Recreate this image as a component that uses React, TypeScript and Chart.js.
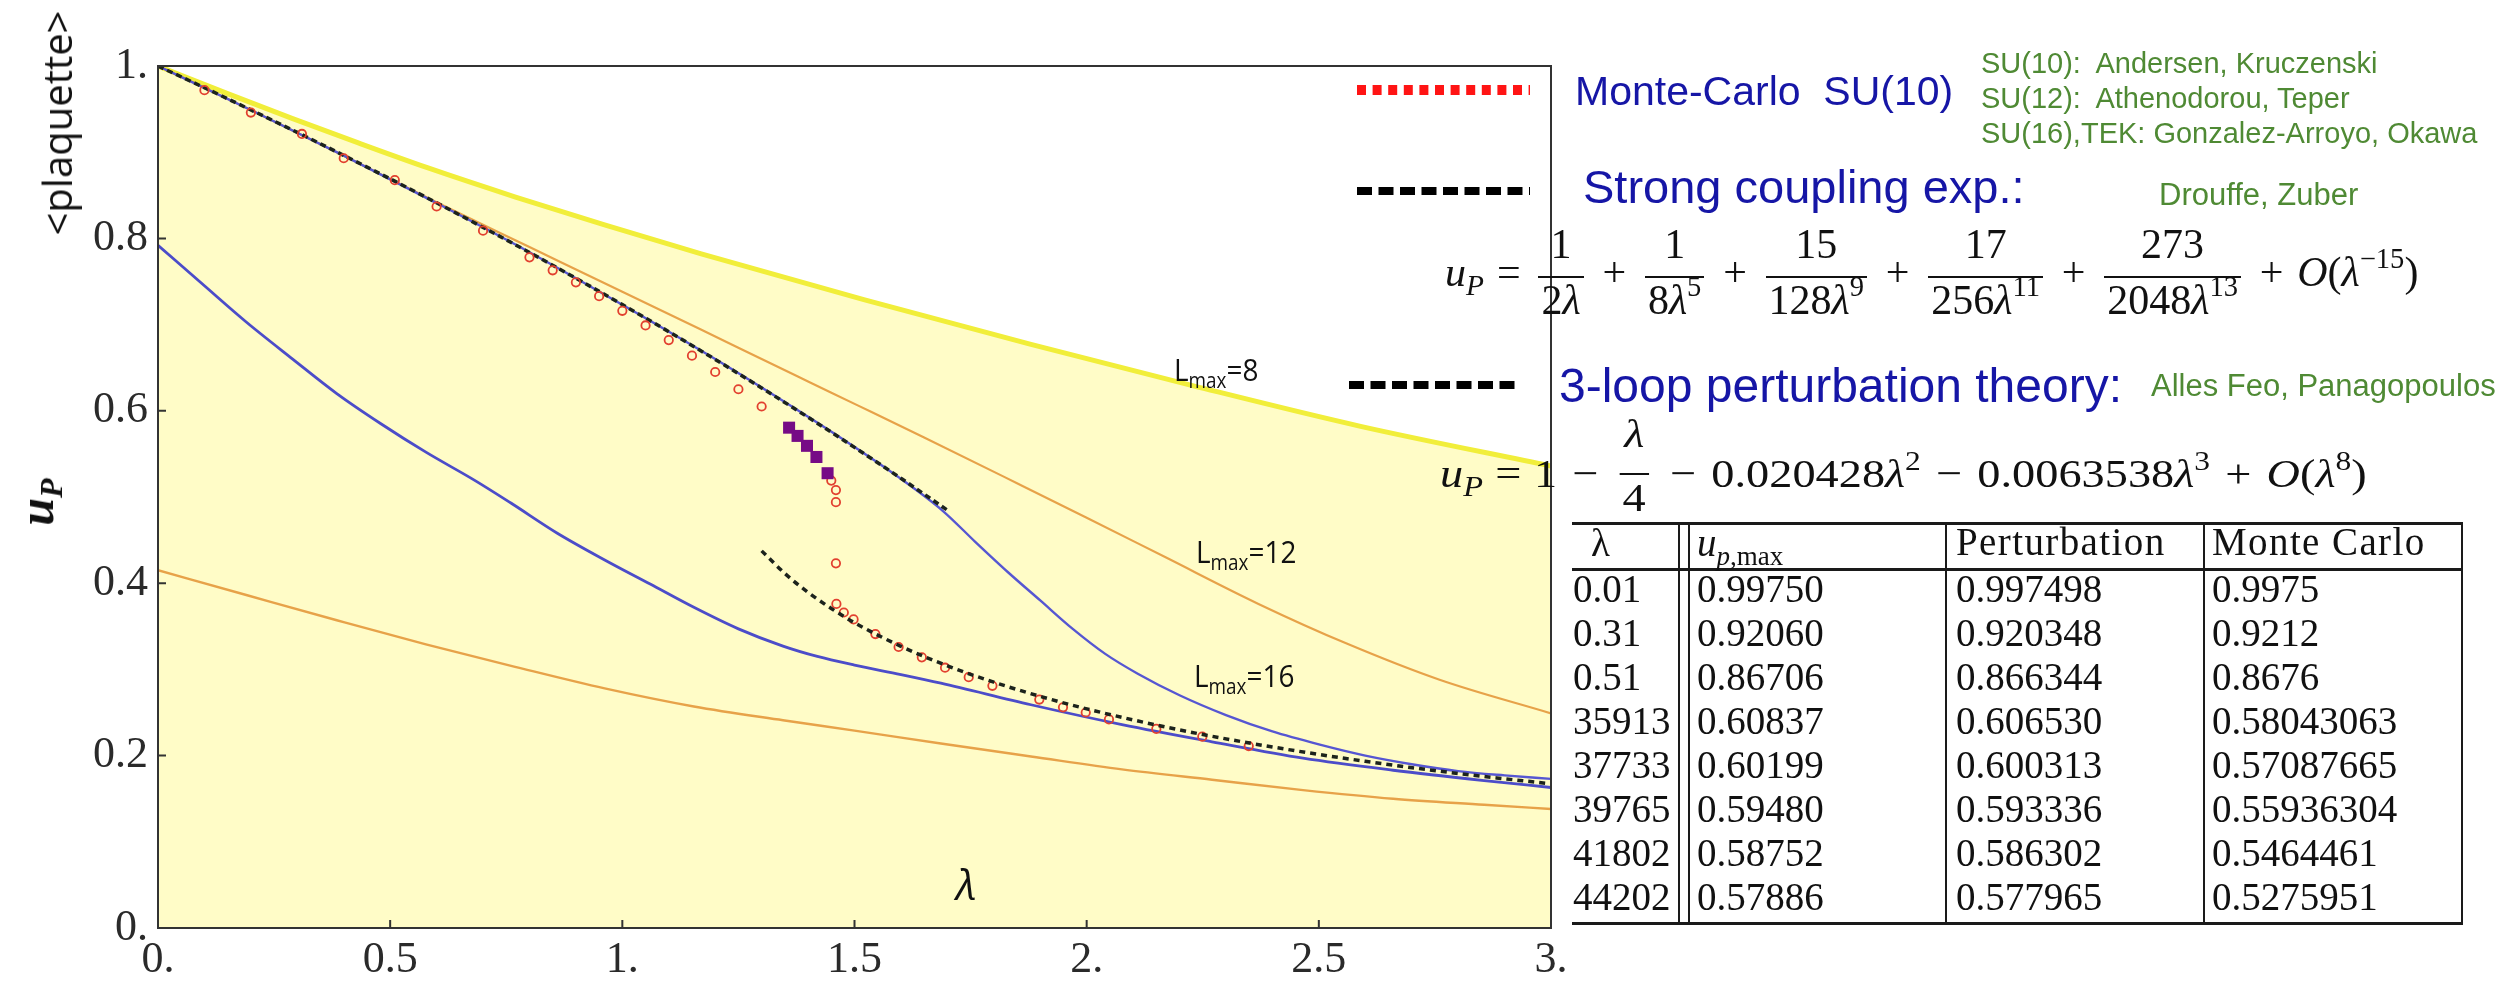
import React, { useEffect, useRef } from 'react';
import { Chart, registerables } from 'chart.js';

Chart.register(...registerables);

// ---- series (lambda, u_P) ----
const yellowX = [0, 0.15, 0.29, 0.43, 0.58, 0.77, 0.96, 1.17, 1.52, 1.88, 2.23, 2.59, 3.0];
const yellowY = [1.0, 0.968, 0.939, 0.911, 0.882, 0.848, 0.816, 0.782, 0.729, 0.677, 0.629, 0.582, 0.536];

const orangeUpX = [0, 0.2, 0.4, 0.6, 0.8, 1.0, 1.167, 1.3, 1.4, 1.508, 1.65, 1.85, 2.0, 2.17, 2.37, 2.56, 2.76, 3.0];
const orangeUpY = [1.0, 0.949, 0.896, 0.842, 0.79, 0.738, 0.695, 0.66, 0.634, 0.606, 0.569, 0.516, 0.476, 0.43, 0.376, 0.33, 0.288, 0.249];

const orangeLoX = [0, 0.192, 0.385, 0.577, 0.769, 0.962, 1.154, 1.346, 1.5, 1.686, 1.88, 2.076, 2.27, 2.466, 2.66, 2.856, 3.0];
const orangeLoY = [0.415, 0.386, 0.357, 0.329, 0.303, 0.278, 0.257, 0.241, 0.229, 0.214, 0.199, 0.184, 0.172, 0.16, 0.15, 0.143, 0.138];

const blueUpX = [0, 0.2, 0.4, 0.6, 0.8, 1.0, 1.2, 1.4, 1.5, 1.6, 1.69, 1.76, 1.83, 1.9, 1.97, 2.04, 2.11, 2.2, 2.3, 2.4, 2.5, 2.6, 2.7, 2.8, 2.9, 3.0];
const blueUpY = [1.0, 0.949, 0.896, 0.841, 0.784, 0.723, 0.66, 0.593, 0.558, 0.521, 0.484, 0.448, 0.413, 0.38, 0.347, 0.318, 0.295, 0.27, 0.247, 0.228, 0.213, 0.2, 0.19, 0.182, 0.177, 0.173];

const blueLoX = [0, 0.1, 0.19, 0.29, 0.385, 0.48, 0.577, 0.683, 0.76, 0.86, 0.962, 1.06, 1.154, 1.25, 1.346, 1.42, 1.5, 1.6, 1.686, 1.88, 2.076, 2.27, 2.466, 2.66, 2.856, 3.0];
const blueLoY = [0.792, 0.745, 0.703, 0.66, 0.62, 0.585, 0.552, 0.519, 0.493, 0.458, 0.427, 0.399, 0.372, 0.347, 0.327, 0.315, 0.305, 0.294, 0.284, 0.259, 0.236, 0.216, 0.197, 0.183, 0.171, 0.163];

// 3-loop perturbation theory
const pertX = [0, 0.1, 0.2, 0.3, 0.4, 0.5, 0.6, 0.7, 0.8, 0.9, 1.0, 1.1, 1.2, 1.3, 1.4, 1.5, 1.6, 1.7];
const pertY = [1.0, 0.9748, 0.9491, 0.923, 0.8963, 0.8691, 0.8413, 0.8128, 0.7837, 0.7538, 0.7232, 0.6918, 0.6596, 0.6265, 0.5925, 0.5576, 0.5217, 0.4848];

// strong coupling expansion
const strongX = [1.3, 1.35, 1.4, 1.45, 1.5, 1.6, 1.7, 1.8, 1.9, 2.0, 2.2, 2.4, 2.6, 2.8, 3.0];
const strongY = [0.4375, 0.4113, 0.3894, 0.3707, 0.3541, 0.3268, 0.3042, 0.2852, 0.2687, 0.2542, 0.2298, 0.21, 0.1934, 0.1793, 0.1672];

// Monte-Carlo SU(10)
const mcX = [0.1, 0.2, 0.31, 0.4, 0.51, 0.6, 0.7, 0.8, 0.85, 0.9, 0.95, 1.0, 1.05, 1.1, 1.15, 1.2, 1.25, 1.3, 1.45, 1.46, 1.46, 1.46, 1.461, 1.477, 1.498, 1.545, 1.595, 1.645, 1.695, 1.746, 1.797, 1.898, 1.949, 1.998, 2.048, 2.15, 2.249, 2.349];
const mcY = [0.972, 0.946, 0.9212, 0.893, 0.8676, 0.837, 0.809, 0.778, 0.763, 0.749, 0.733, 0.716, 0.699, 0.682, 0.664, 0.645, 0.625, 0.605, 0.519, 0.508, 0.494, 0.423, 0.376, 0.366, 0.358, 0.341, 0.326, 0.314, 0.302, 0.291, 0.281, 0.265, 0.256, 0.25, 0.242, 0.231, 0.222, 0.211];

// Monte-Carlo points near the transition
const purpleX = [1.35913, 1.37733, 1.39765, 1.41802, 1.44202];
const purpleY = [0.58043063, 0.57087665, 0.55936304, 0.5464461, 0.5275951];

// table
const tableLambda = ['0.01', '0.31', '0.51', '35913', '37733', '39765', '41802', '44202'];
const tableUpMax = ['0.99750', '0.92060', '0.86706', '0.60837', '0.60199', '0.59480', '0.58752', '0.57886'];
const tablePert = ['0.997498', '0.920348', '0.866344', '0.606530', '0.600313', '0.593336', '0.586302', '0.577965'];
const tableMC = ['0.9975', '0.9212', '0.8676', '0.58043063', '0.57087665', '0.55936304', '0.5464461', '0.5275951'];

const xTicks = [0, 0.5, 1, 1.5, 2, 2.5, 3];
const yTicks = [0, 0.2, 0.4, 0.6, 0.8, 1];

const pts = (xs: number[], ys: number[]) => xs.map((x, i) => ({ x, y: ys[i] }));

const SERIF = '"Liberation Serif", "DejaVu Serif", serif';
const SANS = '"Liberation Sans", Arial, sans-serif';
const OPEN = '"Open Sans", "Noto Sans", sans-serif';
const BLUE = '#1616a6';
const GREEN = '#4f8a34';

const fmtTick = (v: number) => {
  const r = Math.round(v * 100) / 100;
  return Number.isInteger(r) ? `${r}.` : String(r);
};

const framePlugin = {
  id: 'frameAndKey',
  afterDraw(chart: any) {
    const { ctx, chartArea } = chart;
    const { left, right, top, bottom } = chartArea;
    const xs = chart.scales.x;
    const ys = chart.scales.y;
    ctx.save();
    ctx.strokeStyle = '#333';
    ctx.lineWidth = 2;
    ctx.strokeRect(left, top, right - left, bottom - top);
    ctx.beginPath();
    xTicks.forEach((v) => {
      const px = xs.getPixelForValue(v);
      ctx.moveTo(px, bottom);
      ctx.lineTo(px, bottom - 8);
    });
    yTicks.forEach((v) => {
      const py = ys.getPixelForValue(v);
      ctx.moveTo(left, py);
      ctx.lineTo(left + 8, py);
    });
    ctx.stroke();

    // key swatches
    const key = (x0: number, x1: number, y: number, w: number, color: string, dash: number[]) => {
      ctx.beginPath();
      ctx.lineWidth = w;
      ctx.strokeStyle = color;
      ctx.setLineDash(dash);
      ctx.moveTo(x0, y);
      ctx.lineTo(x1, y);
      ctx.stroke();
    };
    key(right - 194, right - 21, 90, 10, '#ff1414', [9, 6.6]);
    key(right - 194, right - 21, 191, 8, '#000', [15, 6.5]);
    key(right - 202, right - 30, 385, 8, '#000', [15, 6.5]);
    ctx.restore();
  },
};

// ---- math typesetting helpers (Liberation Serif, 44px line boxes) ----
const LH = 44;
const baseInLine = (size: number) => (LH - 1.107 * size) / 2 + 0.891 * size;
const Sup = ({ children }: { children: React.ReactNode }) => (
  <span style={{ fontSize: '0.68em', position: 'relative', top: '-0.62em', lineHeight: 0 }}>{children}</span>
);
const Sub = ({ children }: { children: React.ReactNode }) => (
  <span style={{ fontSize: '0.7em', position: 'relative', top: '0.3em', lineHeight: 0 }}>{children}</span>
);
const Frac = ({ n, d, numH }: { n: React.ReactNode; d: React.ReactNode; numH: number }) => (
  <span style={{ display: 'inline-flex', flexDirection: 'column', textAlign: 'center', margin: '0 5px' }}>
    <span style={{ display: 'block', height: numH, lineHeight: `${LH}px`, padding: '0 3px' }}>{n}</span>
    <span style={{ display: 'block', height: LH, borderTop: '2px solid #111', lineHeight: `${LH}px`, padding: '0 3px' }}>{d}</span>
  </span>
);
const T = ({ pt, children }: { pt: number; children: React.ReactNode }) => (
  <span style={{ display: 'block', paddingTop: pt, lineHeight: `${LH}px` }}>{children}</span>
);
const Op = ({ pt, c, gap = 0.22 }: { pt: number; c: string; gap?: number }) => (
  <span
    style={{
      display: 'block',
      paddingTop: pt,
      lineHeight: `${LH}px`,
      width: '0.78em',
      textAlign: 'center',
      margin: `0 ${gap}em`,
    }}
  >
    {c}
  </span>
);
const L = () => <i>λ</i>;
const UP = () => (
  <>
    <i>u</i>
    <Sub>
      <i>P</i>
    </Sub>
  </>
);

const abs = (left: number, top: number, extra: React.CSSProperties = {}): React.CSSProperties => ({
  position: 'absolute',
  left,
  top,
  whiteSpace: 'nowrap',
  lineHeight: 1,
  ...extra,
});

const LLabel = ({ x, base, n }: { x: number; base: number; n: string }) => (
  <div style={abs(x, base - 0.888 * 31, { fontFamily: OPEN, fontSize: 31, color: '#111', transform: 'scaleX(0.9)', transformOrigin: 'left' })}>
    L<span style={{ fontSize: 21, position: 'relative', top: 7 }}>max</span>={n}
  </div>
);

export default function App() {
  const ref = useRef<HTMLCanvasElement>(null);

  useEffect(() => {
    const canvas = ref.current;
    if (!canvas) return;
    const line = (data: { x: number; y: number }[], color: string, width: number, order: number, extra: any = {}) => ({
      data,
      borderColor: color,
      borderWidth: width,
      pointRadius: 0,
      cubicInterpolationMode: 'monotone',
      fill: false,
      order,
      ...extra,
    });
    const chart = new Chart(canvas, {
      type: 'line',
      data: {
        datasets: [
          line(pts(yellowX, yellowY), '#f1ee3a', 5, 9, { fill: 'origin', backgroundColor: '#fffcc7' }),
          line(pts(orangeUpX, orangeUpY), '#e7a249', 2.2, 6),
          line(pts(orangeLoX, orangeLoY), '#e7a249', 2.4, 6),
          line(pts(blueUpX, blueUpY), '#5656d2', 2.4, 5),
          line(pts(blueLoX, blueLoY), '#4c4cc9', 2.8, 5),
          line(pts(pertX, pertY), '#1c231c', 3.5, 4, { borderDash: [6, 4] }),
          {
            data: pts(mcX, mcY),
            showLine: false,
            pointStyle: 'circle',
            pointRadius: 4.2,
            pointBorderWidth: 1.8,
            pointBorderColor: '#e2402f',
            pointBackgroundColor: 'rgba(0,0,0,0)',
            order: 3,
          },
          line(pts(strongX, strongY), '#1c231c', 3.5, 2, { borderDash: [6, 5] }),
          {
            data: pts(purpleX, purpleY),
            showLine: false,
            pointStyle: 'rect',
            pointRadius: 8.5,
            pointBorderWidth: 0,
            pointBackgroundColor: '#760b86',
            pointBorderColor: '#760b86',
            order: 1,
          },
        ],
      },
      options: {
        animation: false,
        responsive: false,
        devicePixelRatio: 1,
        layout: { padding: { top: 66, right: 963, left: 0, bottom: 0 } },
        plugins: { legend: { display: false }, tooltip: { enabled: false } },
        scales: {
          x: {
            type: 'linear',
            min: 0,
            max: 3,
            afterFit: (s: any) => {
              s.height = 55;
            },
            afterBuildTicks: (s: any) => {
              s.ticks = xTicks.map((value) => ({ value }));
            },
            ticks: {
              callback: (v: any) => fmtTick(Number(v)),
              font: { family: SERIF, size: 44 },
              color: '#2a2a2a',
              padding: 6,
              maxRotation: 0,
              autoSkip: false,
            },
            grid: { display: false, drawTicks: false },
            border: { display: false },
          },
          y: {
            type: 'linear',
            min: 0,
            max: 1,
            afterFit: (s: any) => {
              s.width = 158;
            },
            afterBuildTicks: (s: any) => {
              s.ticks = yTicks.map((value) => ({ value }));
            },
            ticks: {
              callback: (v: any) => fmtTick(Number(v)),
              font: { family: SERIF, size: 44 },
              color: '#2a2a2a',
              padding: 10,
              autoSkip: false,
            },
            grid: { display: false, drawTicks: false },
            border: { display: false },
          },
        },
      } as any,
      plugins: [framePlugin],
    });
    return () => chart.destroy();
  }, []);

  const rowBase = (i: number) => 602 + 44 * i;
  const tFont = 39;
  const tTop = (b: number) => b - 0.8375 * tFont;
  const tableCols = [1573, 1697, 1956, 2212];
  const vLines = [1678, 1688, 1945, 2203, 2461];

  // strong coupling series: bar at y=276, numerator raised 18px, text baseline 10px under the bar
  const f1 = 42;
  const n1 = baseInLine(f1) + 18;
  const p1 = n1 + 10 - baseInLine(f1);
  // perturbative series: bar at y=473, numerator raised 26px, text baseline 14px under the bar
  const f2 = 41;
  const n2 = baseInLine(f2) + 26;
  const p2 = n2 + 14 - baseInLine(f2);

  const mathBox: React.CSSProperties = {
    position: 'absolute',
    display: 'flex',
    alignItems: 'flex-start',
    fontFamily: SERIF,
    color: '#111',
    whiteSpace: 'nowrap',
  };

  return (
    <div style={{ position: 'absolute', left: 0, top: 0, width: 2514, height: 983, background: '#fff', overflow: 'hidden' }}>
      <canvas ref={ref} width={2514} height={983} style={{ position: 'absolute', left: 0, top: 0 }} />

      {/* axis titles */}
      <div
        style={abs(57, 123, {
          fontFamily: OPEN,
          fontSize: 40,
          color: '#111',
          transform: 'translate(-50%,-50%) rotate(-90deg)',
        })}
      >
        {'<plaquette>'}
      </div>
      <div
        style={abs(36, 502, {
          fontFamily: SERIF,
          fontSize: 50,
          fontWeight: 'bold',
          fontStyle: 'italic',
          color: '#111',
          transform: 'translate(-50%,-50%) rotate(-90deg)',
        })}
      >
        u<span style={{ fontSize: 32, position: 'relative', top: 9 }}>P</span>
      </div>
      <div style={abs(956, 900 - 0.888 * 42, { fontFamily: OPEN, fontSize: 42, fontStyle: 'italic', color: '#111' })}>λ</div>

      <LLabel x={1174} base={382} n="8" />
      <LLabel x={1196} base={564} n="12" />
      <LLabel x={1194} base={688} n="16" />

      {/* key texts */}
      <div style={abs(1575, 106 - 0.847 * 41, { fontFamily: SANS, fontSize: 41, color: BLUE })}>Monte-Carlo&nbsp; SU(10)</div>
      {['SU(10):  Andersen, Kruczenski', 'SU(12):  Athenodorou, Teper', 'SU(16),TEK: Gonzalez-Arroyo, Okawa'].map((t, i) => (
        <div key={t} style={abs(1981, 74 + 35 * i - 0.847 * 29, { fontFamily: SANS, fontSize: 29, color: GREEN, whiteSpace: 'pre' })}>
          {t}
        </div>
      ))}
      <div style={abs(1583, 203 - 0.847 * 47, { fontFamily: SANS, fontSize: 47, color: BLUE })}>Strong coupling exp.:</div>
      <div style={abs(2159, 205 - 0.847 * 31, { fontFamily: SANS, fontSize: 31, color: GREEN })}>Drouffe, Zuber</div>
      <div style={abs(1559, 403 - 0.847 * 48, { fontFamily: SANS, fontSize: 48, color: BLUE })}>3-loop perturbation theory:</div>
      <div style={abs(2151, 396 - 0.847 * 31, { fontFamily: SANS, fontSize: 31, color: GREEN })}>Alles Feo, Panagopoulos</div>

      {/* strong coupling series */}
      <div style={{ ...mathBox, fontSize: f1, left: 1445, top: 276 - n1 }}>
        <T pt={p1}>
          <UP />
        </T>
        <Op pt={p1} c="=" gap={0.2} />
        <Frac numH={n1} n="1" d={<>2<L /></>} />
        <Op pt={p1} c="+" />
        <Frac numH={n1} n="1" d={<>8<L /><Sup>5</Sup></>} />
        <Op pt={p1} c="+" />
        <Frac numH={n1} n="15" d={<>128<L /><Sup>9</Sup></>} />
        <Op pt={p1} c="+" />
        <Frac numH={n1} n="17" d={<>256<L /><Sup>11</Sup></>} />
        <Op pt={p1} c="+" />
        <Frac numH={n1} n="273" d={<>2048<L /><Sup>13</Sup></>} />
        <Op pt={p1} c="+" />
        <T pt={p1}>
          <i>O</i>(<L />
          <Sup>−15</Sup>)
        </T>
      </div>

      {/* perturbative series */}
      <div style={{ ...mathBox, fontSize: f2, left: 1440, top: 473 - n2, transform: 'scaleX(1.13)', transformOrigin: 'left top' }}>
        <T pt={p2}>
          <UP />
        </T>
        <Op pt={p2} c="=" gap={0.16} />
        <T pt={p2}>1</T>
        <Op pt={p2} c="−" />
        <Frac numH={n2} n={<L />} d="4" />
        <Op pt={p2} c="−" />
        <T pt={p2}>
          0.020428<L />
          <Sup>2</Sup>
        </T>
        <Op pt={p2} c="−" />
        <T pt={p2}>
          0.0063538<L />
          <Sup>3</Sup>
        </T>
        <Op pt={p2} c="+" />
        <T pt={p2}>
          <i>O</i>(<L />
          <Sup>8</Sup>)
        </T>
      </div>

      {/* table */}
      <div style={{ position: 'absolute', left: 1572, top: 522, width: 891, height: 2.5, background: '#1a1a1a' }} />
      <div style={{ position: 'absolute', left: 1572, top: 568, width: 891, height: 2.5, background: '#1a1a1a' }} />
      <div style={{ position: 'absolute', left: 1572, top: 922, width: 891, height: 2.5, background: '#1a1a1a' }} />
      {vLines.map((x) => (
        <div key={x} style={{ position: 'absolute', left: x, top: 523, width: 2, height: 401, background: '#1a1a1a' }} />
      ))}
      <div style={abs(1591, tTop(556), { fontFamily: SERIF, fontSize: tFont, color: '#111' })}>λ</div>
      <div style={abs(1697, tTop(556), { fontFamily: SERIF, fontSize: tFont, color: '#111' })}>
        <i>u</i>
        <span style={{ fontSize: 27, position: 'relative', top: 9 }}>
          <i>p</i>,max
        </span>
      </div>
      <div style={abs(1956, tTop(555), { fontFamily: SERIF, fontSize: tFont, color: '#111', letterSpacing: 1.4 })}>Perturbation</div>
      <div style={abs(2212, tTop(555), { fontFamily: SERIF, fontSize: tFont, color: '#111', letterSpacing: 1.4 })}>Monte Carlo</div>
      {[tableLambda, tableUpMax, tablePert, tableMC].map((col, c) =>
        col.map((v, r) => (
          <div key={`${c}-${r}`} style={abs(tableCols[c], tTop(rowBase(r)), { fontFamily: SERIF, fontSize: tFont, color: '#111' })}>
            {v}
          </div>
        ))
      )}
    </div>
  );
}
